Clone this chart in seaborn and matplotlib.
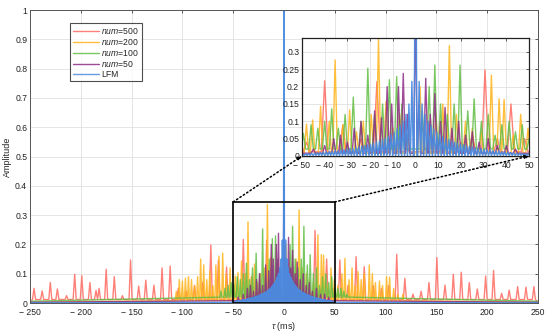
#!/usr/bin/env python3
# coding: utf-8
# Correlation sidelobes: random-coded waveforms (num=500/200/100/50) vs LFM
import numpy as np
import pandas as pd
import matplotlib
matplotlib.use("Agg")
import matplotlib.pyplot as plt
from matplotlib.patches import Rectangle, ConnectionPatch
import seaborn as sns

# **--- peak positions (ms) and amplitudes**
num500_t = [-246, -238, -230, -223, -214, -206, -199, -191, -185, -182, -175, -167, -159, -151,
            -143, -136, -128, -120, -112, -104, -96, -88, -80, -72, -64.5, -56.5, -48, -40, -32,
            -24, -17, -10, -4, 4, 12, 20, 25, 30.6, 36, 42, 48, 55, 63, 71, 79, 88, 96, 103, 111,
            119, 127, 135, 142.7, 150.5, 158.5, 166.7, 174.5, 182.4, 190.3, 198.5, 206.3, 214.3,
            221.7, 230, 238.2, 246]
num500_a = [0.05, 0.041, 0.07, 0.048, 0.025, 0.098, 0.093, 0.07, 0.043, 0.05, 0.115, 0.09, 0.025,
            0.147, 0.058, 0.078, 0.061, 0.12, 0.126, 0.05, 0.04, 0.06, 0.07, 0.198, 0.147, 0.123,
            0.04, 0.217, 0.09, 0.05, 0.214, 0.03, 0.02, 0.02, 0.03, 0.04, 0.06, 0.248, 0.05, 0.15,
            0.05, 0.147, 0.06, 0.158, 0.124, 0.06, 0.05, 0.06, 0.166, 0.084, 0.03, 0.04, 0.07,
            0.155, 0.061, 0.098, 0.105, 0.07, 0.048, 0.092, 0.111, 0.033, 0.044, 0.056, 0.054,
            0.056]

num200_t = [-106, -103, -100, -97, -94, -91, -88, -85, -82, -79, -76, -73, -70, -67, -64, -60.3,
            -57, -53, -48, -45.3, -41.8, -38, -35.4, -32, -29, -26, -23, -19.5, -16.3, -13, -10, -7,
            -3.5, 2, 5.5, 9, 12, 14.9, 18, 22, 25, 29, 33.4, 36.8, 39, 43, 46.3, 49.5, 53, 57, 60,
            64, 67, 70, 73, 76, 79, 84, 87, 90, 94, 97, 101, 104, 108, 112, 117]
num200_a = [0.04, 0.08, 0.075, 0.085, 0.09, 0.08, 0.06, 0.09, 0.15, 0.13, 0.08, 0.11, 0.06, 0.13,
            0.16, 0.17, 0.1, 0.12, 0.092, 0.104, 0.143, 0.1, 0.277, 0.09, 0.133, 0.07, 0.1, 0.12,
            0.336, 0.156, 0.08, 0.12, 0.06, 0.2, 0.1, 0.12, 0.15, 0.318, 0.12, 0.1, 0.08, 0.07,
            0.233, 0.165, 0.163, 0.06, 0.12, 0.08, 0.06, 0.1, 0.152, 0.08, 0.12, 0.06, 0.107,
            0.08, 0.1, 0.13, 0.1, 0.07, 0.075, 0.06, 0.09, 0.088, 0.05, 0.03, 0.03]

num100_t = [-66, -62, -58, -55, -52, -49.4, -46, -43, -40, -36.9, -34, -31, -27.4, -24, -21, -18,
            -14.5, -11.5, -8.3, -6, 3, 6, 8.5, 11, 14, 17, 19.6, 23, 25.8, 29, 32, 35, 38, 41.2,
            44, 47, 50, 53, 56, 59, 62, 65]
num100_a = [0.02, 0.04, 0.05, 0.06, 0.07, 0.065, 0.09, 0.08, 0.1, 0.136, 0.08, 0.12, 0.17, 0.1,
            0.253, 0.12, 0.15, 0.22, 0.229, 0.15, 0.13, 0.2, 0.262, 0.15, 0.12, 0.15, 0.262, 0.13,
            0.165, 0.1, 0.12, 0.06, 0.09, 0.1, 0.07, 0.09, 0.05, 0.05, 0.05, 0.04, 0.03, 0.02]

num50_t = [-45, -40, -36, -33, -30, -27, -24, -21, -18, -15, -12.5, -10.5, -7.5, -5.4, -3.5, 0,
           1.5, 4.5, 6.5, 8.5, 11, 13, 16, 19, 22, 25, 28, 32, 36, 40, 44]
num50_a = [0.02, 0.03, 0.05, 0.06, 0.04, 0.08, 0.1, 0.06, 0.13, 0.11, 0.2, 0.15, 0.2, 0.238, 0.12,
           0.4, 0.15, 0.224, 0.12, 0.18, 0.1, 0.14, 0.08, 0.1, 0.06, 0.07, 0.04, 0.05, 0.03, 0.03,
           0.02]

# LFM: main lobe + sidelobe peaks on the positive side (mirror image on the negative side)
lfm_peak = 1.0
lfm_t = [1.6, 2.9, 4.2, 5.5, 6.8, 8.1, 9.4, 10.7, 12.0, 13.3, 14.6, 15.9, 17.2, 18.5, 19.8, 21.1,
         22.4, 23.7, 25.0, 26.3, 27.6, 28.9, 30.2, 31.5, 32.8, 34.1, 35.4, 36.7, 38.0, 39.3, 40.6,
         41.9, 43.2, 44.5, 45.8, 47.1, 48.4, 49.7]
lfm_a = [0.215, 0.15, 0.12, 0.1, 0.088, 0.078, 0.069, 0.062, 0.056, 0.051, 0.047, 0.043, 0.04,
         0.037, 0.034, 0.032, 0.03, 0.028, 0.026, 0.024, 0.022, 0.021, 0.019, 0.018, 0.017, 0.016,
         0.015, 0.014, 0.013, 0.012, 0.011, 0.01, 0.009, 0.008, 0.008, 0.007, 0.006, 0.006]

series_names = ["$\\it{num}$=500", "$\\it{num}$=200", "$\\it{num}$=100", "$\\it{num}$=50", "LFM"]
colors = ["#FF6A60", "#FFB319", "#62BE45", "#8E2B85", "#4A8BE0"]
floors = [0.012, 0.008, 0.02, 0.008, 0.002]
half_w = [1.5, 1.0, 1.0, 0.9, 0.6]


def spike_line(pk_t, pk_a, floor, hw):
    """turn a list of peaks into a spiky trace dropping to the floor between peaks"""
    xs, ys = [-250.0], [floor * 0.3]
    for i, (t, a) in enumerate(zip(pk_t, pk_a)):
        prev_gap = t - pk_t[i - 1] if i > 0 else 99
        if prev_gap > 2 * hw:
            xs.append(t - hw); ys.append(floor)
        xs.append(t); ys.append(a)
        next_gap = pk_t[i + 1] - t if i < len(pk_t) - 1 else 99
        if next_gap > 2 * hw:
            xs.append(t + hw); ys.append(floor)
        else:
            xs.append(t + next_gap / 2); ys.append(floor)
    xs.append(250.0); ys.append(floor * 0.3)
    return xs, ys


frames = []
for name, pt, pa, fl, hw in zip(series_names[:4], [num500_t, num200_t, num100_t, num50_t],
                                [num500_a, num200_a, num100_a, num50_a], floors[:4], half_w[:4]):
    x, y = spike_line(pt, pa, fl, hw)
    frames.append(pd.DataFrame({"tau": x, "amp": y, "series": name}))

lfm_all_t = [-v for v in lfm_t[::-1]] + [0.0] + lfm_t
lfm_all_a = lfm_a[::-1] + [lfm_peak] + lfm_a
x, y = spike_line(lfm_all_t, lfm_all_a, floors[4], half_w[4])
frames.append(pd.DataFrame({"tau": x, "amp": y, "series": "LFM"}))
df = pd.concat(frames, ignore_index=True)

# **--- style**
sns.set_style("white")
plt.rcParams['font.family'] = ['Liberation Sans', 'DejaVu Sans']
plt.rcParams['mathtext.fontset'] = 'custom'
plt.rcParams['mathtext.rm'] = 'Liberation Sans'
plt.rcParams['mathtext.it'] = 'Liberation Sans:italic'
plt.rcParams['xtick.direction'] = 'in'
plt.rcParams['ytick.direction'] = 'in'

fig = plt.figure(figsize=(5.5, 3.34), dpi=100)
ax = fig.add_axes([0.0545, 0.0928, 0.9236, 0.877])
axin = fig.add_axes([0.549, 0.533, 0.413, 0.353])


def fmt_tick(v):
    v = float(v)
    s = ("%g" % abs(v))
    return ("\u2212 " + s) if v < 0 else s


for a, lw in [(ax, 1.0), (axin, 1.0)]:
    for name, c in zip(series_names, colors):
        sns.lineplot(data=df[df.series == name], x="tau", y="amp", color=c, lw=lw,
                     alpha=0.85 if name != "LFM" else 0.95, sort=False, estimator=None,
                     ax=a, legend=False)
    a.grid(True, color="#e0e0e0", lw=0.6)
    a.tick_params(top=True, right=True, length=2.5, width=0.5, labelsize=6.2,
                  colors="#222222")
    a.tick_params(axis="x", pad=3.5)
    a.tick_params(axis="y", pad=2)
    a.set_xlabel("")
    a.set_ylabel("")

ax.set_xlim(-250, 250)
ax.set_ylim(0, 1)
xt = np.arange(-250, 251, 50)
ax.set_xticks(xt)
ax.set_xticklabels([fmt_tick(v) for v in xt])
yt = np.round(np.arange(0, 1.01, 0.1), 1)
ax.set_yticks(yt)
ax.set_yticklabels(["%g" % v for v in yt])
ax.set_xlabel("$\\tau$ (ms)", fontsize=6.5, labelpad=2)
ax.set_ylabel("Amplitude", fontsize=6.5, labelpad=2)
for s in ax.spines.values():
    s.set_color("#555555"); s.set_linewidth(0.7)

axin.set_xlim(-50, 50)
axin.set_ylim(0, 0.34)
xt2 = np.arange(-50, 51, 10)
axin.set_xticks(xt2)
axin.set_xticklabels([fmt_tick(v) for v in xt2])
yt2 = np.round(np.arange(0, 0.31, 0.05), 2)
axin.set_yticks(yt2)
axin.set_yticklabels(["%g" % v for v in yt2])
for s in axin.spines.values():
    s.set_color("#222222"); s.set_linewidth(0.9)

# zoom box + dotted arrows to the inset
ax.add_patch(Rectangle((-50, 0), 100, 0.345, fill=False, ec="black", lw=1.2, zorder=5))
for xa, xb in [(-50, -50), (50, 50)]:
    con = ConnectionPatch(xyA=(xa, 0.345), coordsA=ax.transData, xyB=(xb, 0.0),
                          coordsB=axin.transData, arrowstyle="-|>", linestyle=":", lw=1.1,
                          color="black", mutation_scale=6, zorder=6)
    fig.add_artist(con)

handles = [plt.Line2D([], [], color=c, lw=1.0, alpha=0.85) for c in colors]
leg = ax.legend(handles, series_names, loc="upper left", bbox_to_anchor=(0.079, 0.956),
                borderaxespad=0, fontsize=6.2, frameon=True, fancybox=False, handlelength=3.0,
                handletextpad=0.3, labelspacing=0.12, borderpad=0.3)
leg.get_frame().set_edgecolor("#222222")
leg.get_frame().set_linewidth(0.8)

plt.savefig("out.png", dpi=100)
print("saved out.png")
